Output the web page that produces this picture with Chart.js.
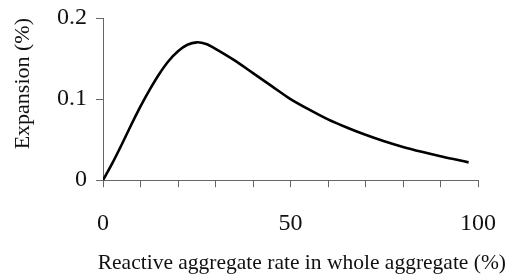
<!DOCTYPE html>
<html lang="en">
<head>
    <meta charset="UTF-8">
    <title>Expansion vs reactive aggregate rate</title>
    <script src="https://cdn.jsdelivr.net/npm/chart.js"></script>
    <style>
        body {
            margin: 0;
            background: #fff;
        }
        #wrap {
            width: 506px;
            height: 276px;
        }
    </style>
</head>
<body>
    <div id="wrap"><canvas id="chart"></canvas></div>
    <script>
        // Data
        const rate = [0, 2.5, 5, 7.5, 10, 12.5, 15, 17.5, 20, 22.5, 25, 27.5, 30, 35, 40, 45, 50, 55, 60, 65, 70, 75, 80, 85, 90, 95, 97.5];
        const expansion = [0, 0.021, 0.044, 0.068, 0.091, 0.112, 0.131, 0.147, 0.159, 0.167, 0.170, 0.168, 0.162, 0.148, 0.132, 0.116, 0.100, 0.087, 0.075, 0.065, 0.056, 0.048, 0.041, 0.035, 0.0295, 0.0245, 0.022];
        const xLabels = [0, 50, 100];
        const xTitle = 'Reactive aggregate rate in whole aggregate (%)';
        const yTitle = 'Expansion (%)';

        const points = rate.map((x, i) => ({ x: x, y: expansion[i] }));
        const serif = '"Liberation Serif", "Times New Roman", serif';
        const axisColor = '#666';

        new Chart(document.getElementById('chart'), {
            type: 'line',
            data: {
                datasets: [{
                    data: points,
                    borderColor: '#000',
                    borderWidth: 2.6,
                    pointRadius: 0,
                    tension: 0.3,
                    fill: false
                }]
            },
            options: {
                responsive: true,
                maintainAspectRatio: false,
                animation: false,
                layout: {
                    padding: { top: 18, right: 0, left: 0, bottom: 0 }
                },
                plugins: {
                    legend: { display: false },
                    tooltip: { enabled: false },
                    // x axis title as a chart title so it is not squeezed to the axis width
                    title: {
                        display: true,
                        position: 'bottom',
                        align: 'end',
                        text: xTitle,
                        color: '#111',
                        font: { family: serif, size: 21.5, weight: 'normal' },
                        padding: { top: 9, bottom: 0 }
                    }
                },
                scales: {
                    x: {
                        type: 'linear',
                        min: 0,
                        max: 100,
                        afterFit: function (scale) {
                            scale.height = 61;
                            scale.paddingLeft = 0;
                            scale.paddingRight = 28;
                        },
                        border: { display: true, color: axisColor, width: 1 },
                        grid: { drawOnChartArea: false, drawTicks: true, tickLength: 7, color: axisColor },
                        ticks: {
                            stepSize: 10,
                            padding: 22,
                            maxRotation: 0,
                            autoSkip: false,
                            color: '#111',
                            font: { family: serif, size: 24 },
                            callback: function (v) { return xLabels.includes(v) ? String(v) : ''; }
                        }
                    },
                    y: {
                        min: 0,
                        max: 0.2,
                        afterFit: function (scale) {
                            scale.width = 103;
                            scale.paddingTop = 0;
                            scale.paddingBottom = 0;
                        },
                        border: { display: true, color: axisColor, width: 1 },
                        grid: { drawOnChartArea: false, drawTicks: true, tickLength: 7, color: axisColor },
                        ticks: {
                            stepSize: 0.1,
                            padding: 9,
                            color: '#111',
                            font: { family: serif, size: 24 },
                            callback: function (v) { return String(Math.round(v * 10) / 10); }
                        },
                        title: {
                            display: true,
                            text: yTitle,
                            align: 'end',
                            color: '#111',
                            font: { family: serif, size: 22 },
                            padding: { top: 10, bottom: 0 }
                        }
                    }
                }
            }
        });
    </script>
</body>
</html>
